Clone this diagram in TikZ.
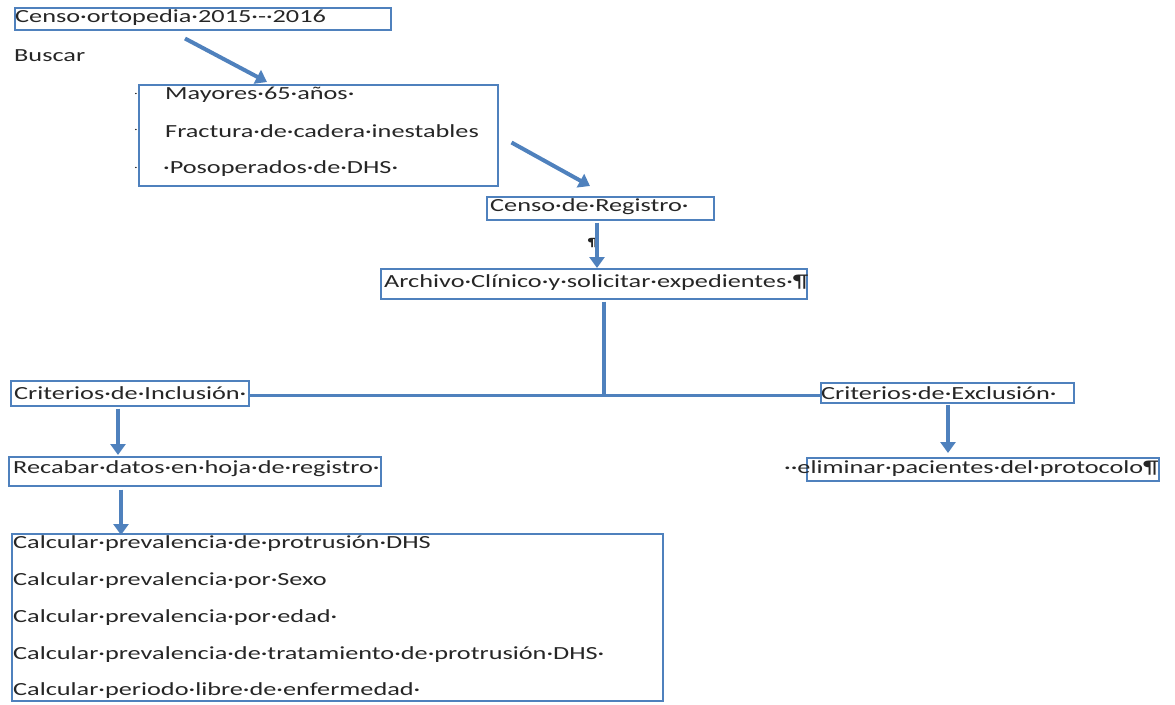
\documentclass[tikz,border=0pt]{standalone}
\usepackage{fontspec}
\setmainfont{Carlito}[FakeStretch=1.42]
\usetikzlibrary{arrows.meta}
\definecolor{ob}{HTML}{4F81BD}
\definecolor{tx}{HTML}{262626}
\begin{document}
\begin{tikzpicture}[x=1pt,y=-1pt,
  font=\fontsize{18.5}{20}\selectfont, text=tx,
  box/.style={draw=ob, line width=1.5pt, anchor=north west, inner sep=0pt},
  lbl/.style={anchor=west, inner sep=0pt},
  tiny/.style={anchor=center, inner sep=0pt, font=\fontsize{9}{10}\selectfont},
  arr/.style={draw=ob, line width=4pt, -{Triangle[width=15pt,length=11pt]}},
  ln/.style={draw=ob, line width=3.5pt}]
\useasboundingbox (0,0) rectangle (1175,704);
% boxes
\node[box, minimum width=376pt, minimum height=22pt] (b1) at (14,7) {};
\node[box, minimum width=359pt, minimum height=101pt] (b2) at (138,84) {};
\node[box, minimum width=227pt, minimum height=23pt] (b3) at (486,196) {};
\node[box, minimum width=426pt, minimum height=30pt] (b4) at (380,268) {};
\node[box, minimum width=238pt, minimum height=25pt] (b5) at (10,380) {};
\node[box, minimum width=253pt, minimum height=20pt] (b6) at (820,382) {};
\node[box, minimum width=372pt, minimum height=29pt] (b7) at (8,456) {};
\node[box, minimum width=352pt, minimum height=23pt] (b8) at (806,457) {};
\node[box, minimum width=651pt, minimum height=167pt] (b9) at (11,533) {};
% texts
\node[lbl] (t1) at (15,18) {Censo·ortopedia·2015·-·2016};
\node[lbl] (tb) at (14,56) {Buscar};
\node[lbl] (t2a) at (165,95) {Mayores·65·años·};
\node[lbl] (t2b) at (165,131) {Fractura·de·cadera·inestables};
\node[lbl] (t2c) at (163,169) {·Posoperados·de·DHS·};
\node[tiny] (m1) at (136,95) {·};
\node[tiny] (m2) at (136,131) {·};
\node[tiny] (m3) at (136,169) {·};
\node[lbl] (t3) at (490,207) {Censo·de·Registro·};
\node[tiny, font=\fontsize{12}{12}\selectfont\bfseries] (p1) at (593,243) {¶};
\node[lbl] (t4) at (384,283) {Archivo·Clínico·y·solicitar·expedientes·¶};
\node[lbl] (t5) at (14,393) {Criterios·de·Inclusión·};
\node[lbl] (t6) at (821,393) {Criterios·de·Exclusión·};
\node[lbl] (t7) at (13,469) {Recabar·datos·en·hoja·de·registro·};
\node[lbl] (t8) at (784,469) {··eliminar·pacientes·del·protocolo¶};
\node[lbl] (t9a) at (13,544) {Calcular·prevalencia·de·protrusión·DHS};
\node[lbl] (t9b) at (13,581) {Calcular·prevalencia·por·Sexo};
\node[lbl] (t9c) at (13,618) {Calcular·prevalencia·por·edad·};
\node[lbl] (t9d) at (13,655) {Calcular·prevalencia·de·tratamiento·de·protrusión·DHS·};
\node[lbl] (t9e) at (13,691) {Calcular·periodo·libre·de·enfermedad·};
% connectors
\draw[arr] ([shift={(171,8)}]b1.south west) -- ([shift={(129,-2)}]b2.north west);
\draw[arr] ([shift={(13,-44)}]b2.south east) -- ([shift={(104,-10)}]b3.north west);
\draw[arr] ([shift={(111,2)}]b3.south west) -- ([shift={(217,0)}]b4.north west);
\coordinate (j) at ([shift={(224,96)}]b4.south west);
\draw[ln] ([shift={(224,2)}]b4.south west) -- (j);
\draw[ln] (b5.east |- j) -- (b6.west |- j);
\draw[arr] ([shift={(108,2)}]b5.south west) -- ([shift={(110,-1)}]b7.north west);
\draw[arr] ([shift={(113,3)}]b7.south west) -- ([shift={(110,2)}]b9.north west);
\draw[arr] ([shift={(128,1)}]b6.south west) -- ([shift={(142,-4)}]b8.north west);
\end{tikzpicture}
\end{document}
